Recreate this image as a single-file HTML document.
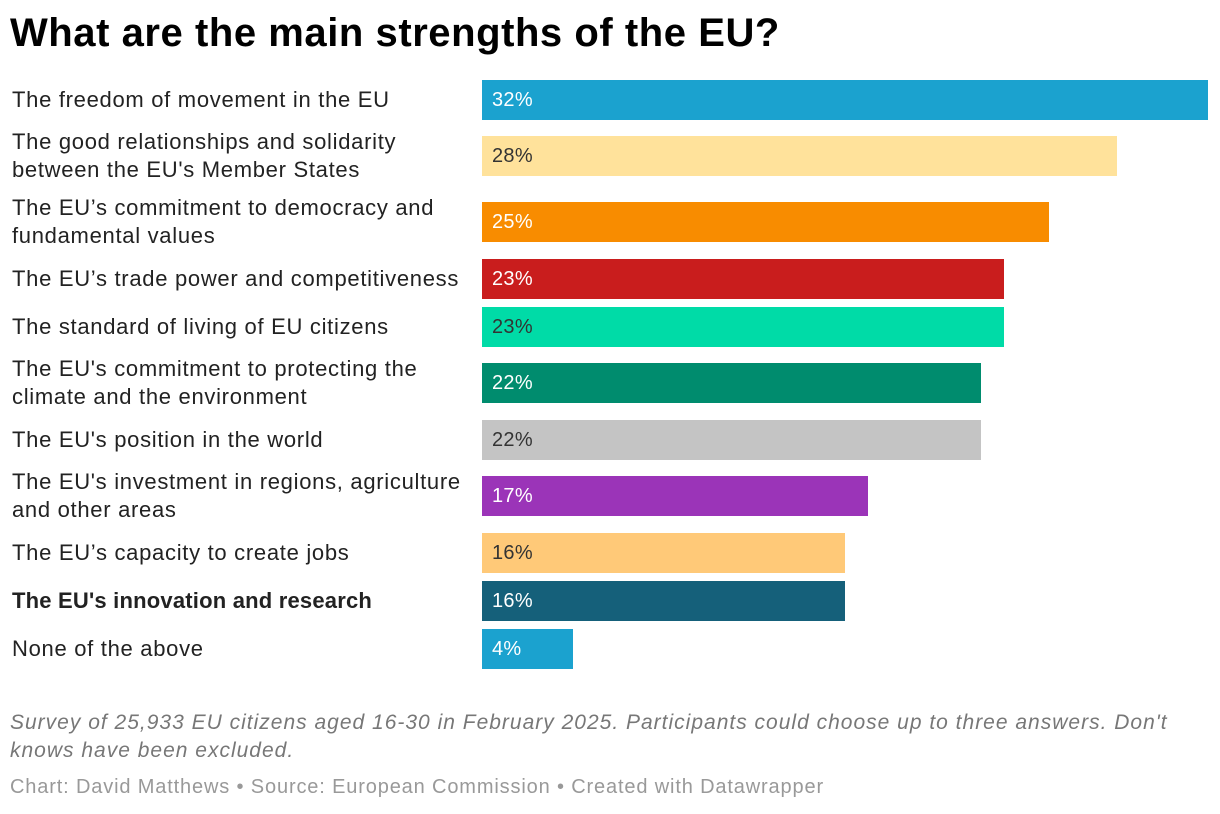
<!DOCTYPE html>
<html><head><meta charset="utf-8"><style>
body{margin:0;width:1220px;height:814px;background:#fff;font-family:"Liberation Sans",sans-serif;position:relative;overflow:hidden}
h1{position:absolute;left:10px;top:11px;margin:0;font-size:40px;font-weight:bold;color:#000;letter-spacing:0.55px;white-space:nowrap}
.lbl{position:absolute;left:12px;font-size:22px;line-height:28px;color:#222;width:470px;letter-spacing:0.7px;white-space:nowrap}
.bar{position:absolute;height:40px}
.val{position:absolute;font-size:20px;line-height:40px;letter-spacing:0.3px}
.note{position:absolute;left:10px;top:709px;font-size:21px;line-height:28px;font-style:italic;color:#777;width:1180px;letter-spacing:1px}
.cred{position:absolute;left:10px;top:776px;font-size:20px;color:#999;letter-spacing:0.85px;white-space:nowrap}
</style></head><body>
<h1>What are the main strengths of the EU?</h1>
<div id="chart"></div>
<div class="note">Survey of 25,933 EU citizens aged 16-30 in February 2025. Participants could choose up to three answers. Don't<br>knows have been excluded.</div>
<div class="cred">Chart: David Matthews • Source: European Commission • Created with Datawrapper</div>
<script>
const categories=["The freedom of movement in the EU","The good relationships and solidarity<br>between the EU's Member States","The EU’s commitment to democracy and<br>fundamental values","The EU’s trade power and competitiveness","The standard of living of EU citizens","The EU's commitment to protecting the<br>climate and the environment","The EU's position in the world","The EU's investment in regions, agriculture<br>and other areas","The EU’s capacity to create jobs","The EU's innovation and research","None of the above"];
const values=[32,28,25,23,23,22,22,17,16,16,4];
const colors=["#1ba2cf","#ffe29b","#f88c00","#c91d1d","#00dba7","#008c6e","#c4c4c4","#9b34b8","#ffc978","#15607a","#1ba2cf"];
const darkText=[false,true,false,false,true,false,true,false,true,false,false];
const boldRow=[false,false,false,false,false,false,false,false,false,true,false];
const x0=482,maxV=32,maxW=726;
const xs=v=>v/maxV*maxW;
const chart=document.getElementById('chart');
let y=80,prevTwo=false;
categories.forEach((c,i)=>{
  const two=c.includes('<br>');
  if(i>0){y+=48;if(two)y+=8;if(prevTwo)y+=9;if(two&&prevTwo)y+=1;}
  prevTwo=two;
  const l=document.createElement('div');l.className='lbl';l.innerHTML=c;
  l.style.top=(y+20-(two?28:14))+'px';
  if(boldRow[i]){l.style.fontWeight='bold';l.style.letterSpacing='0.2px';}
  
  
  chart.appendChild(l);
  const b=document.createElement('div');b.className='bar';
  b.style.left=x0+'px';b.style.top=y+'px';b.style.width=xs(values[i])+'px';b.style.background=colors[i];
  
  
  chart.appendChild(b);
  const t=document.createElement('div');t.className='val';t.textContent=values[i]+'%';
  t.style.left=(x0+10)+'px';t.style.top=y+'px';t.style.color=darkText[i]?'#333':'#fff';
  
  
  chart.appendChild(t);
});
</script>
</body></html>
